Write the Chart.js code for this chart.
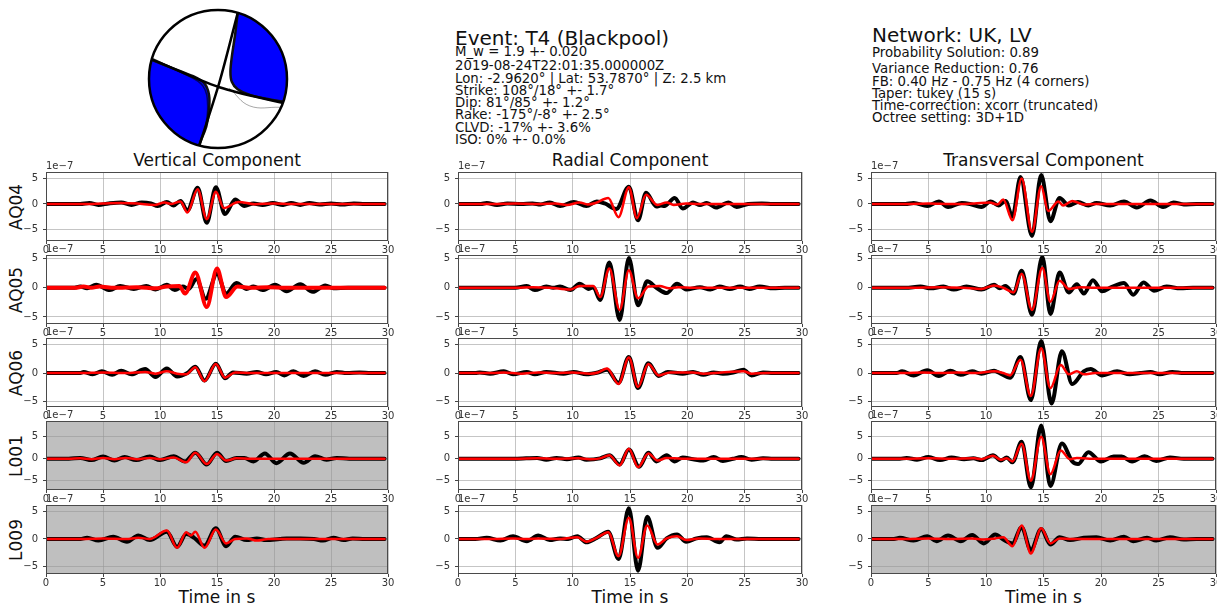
<!DOCTYPE html>
<html>
<head>
<meta charset="utf-8">
<script src="https://cdn.jsdelivr.net/npm/chart.js@4.4.0/dist/chart.umd.min.js"></script>
<style>
  body { margin: 0; width: 1217px; height: 606px; overflow: hidden; background: #fff; position: relative; font-family: "DejaVu Sans", sans-serif; }
  .t { position: absolute; white-space: nowrap; line-height: 1; color: #111; }
  canvas { position: absolute; }
</style>
</head>
<body>
<script>
// station rows and component columns
const stations = ['AQ04', 'AQ05', 'AQ06', 'L001', 'L009'];
const components = ['Vertical Component', 'Radial Component', 'Transversal Component'];
const xTickValues = [0, 5, 10, 15, 20, 25, 30];
const yTickValues = [-5, 0, 5];
const rowYMin = [-7.3, -6.2, -5.9, -7.1, -6.3];
const rowYMax = [6.3, 5.6, 6.1, 8.6, 6.1];
// panels that were not used in the inversion (grey background)
const greyedOut = ['L001-0', 'L009-0', 'L009-2'];

// waveforms, [time s, amplitude 1e-7]
const aq04ZObs = [[0,0],[3,0],[3.8,0.2],[4.6,-0.2],[5.5,0.1],[6.6,0.3],[7.5,-0.2],[8.4,0.3],[9.2,0.1],[9.8,-0.4],[10.6,0.4],[11.2,-0.3],[11.8,0.6],[12.4,-1.3],[13.3,3.2],[14.1,-3.7],[14.9,3.3],[15.7,-2.0],[16.6,0.9],[17.4,-0.4],[18.2,0.1],[19.0,-0.2],[19.9,0.2],[20.8,-0.2],[21.5,0.2],[22.3,-0.2],[23.1,0.2],[24.0,-0.1],[25.0,0.1],[26.0,-0.1],[27.0,0.1],[28.0,0],[29.7,0]];
const aq04ZSyn = [[0,0],[3,0],[5.0,0.1],[6.5,0.2],[8.0,0.1],[9.5,-0.2],[10.4,0.3],[11.0,0],[11.8,0.5],[12.4,-1.7],[13.3,2.9],[14.1,-3.0],[14.9,2.4],[15.6,-0.8],[16.9,0.4],[18.3,-0.05],[20.0,0.1],[21.5,0],[29.7,0]];
const aq04RObs = [[0,0],[2,0],[2.5,0.2],[3.4,-0.2],[4.3,0.1],[5.5,0],[6.5,0.1],[7.2,-0.1],[8.0,0.3],[8.9,-0.4],[10.1,0.4],[11.2,-0.4],[12.1,0.5],[12.8,0.1],[13.8,-1.0],[14.9,3.4],[15.7,-3.2],[16.4,2.2],[17.3,-0.5],[17.7,-0.3],[18.0,-0.4],[18.9,1.2],[19.6,-0.9],[20.5,0.3],[21.1,-0.2],[21.7,0.2],[22.5,-0.7],[23.6,0.3],[24.3,-0.6],[25.3,0],[26.5,0.1],[27.5,0],[29.7,0]];
const aq04RSyn = [[0,0],[3,0],[5,0.1],[7,0],[8.5,0.1],[9.5,-0.2],[10.6,0.3],[11.3,-0.1],[12.0,0.2],[13.1,1.2],[14.0,-2.6],[14.9,3.3],[15.6,-2.8],[16.4,1.8],[17.4,-0.2],[18.2,0.3],[18.8,-0.2],[19.9,0.1],[21,0],[29.7,0]];
const aq04TObs = [[0,0],[3,0],[3.7,0.2],[4.9,-0.4],[5.9,0.5],[6.7,-0.6],[7.9,0.2],[8.6,0],[9.6,-0.6],[10.4,0.5],[11.1,-0.3],[11.7,0.6],[12.3,-2.5],[13.0,5.3],[14.0,-6.3],[14.8,5.7],[15.6,-3.4],[16.4,1.2],[17.2,-0.3],[18.0,0.4],[18.9,-0.3],[19.6,0.2],[20.8,-0.3],[22.0,0.5],[23.1,-0.7],[24.3,0.7],[25.4,-0.6],[26.3,0.3],[27.2,-0.1],[28.3,0],[29.7,0]];
const aq04TSyn = [[0,0],[3,0],[5,0.1],[7,0],[9,0.1],[10.3,0.3],[11.0,-0.1],[11.5,0.9],[12.3,-3.2],[13.1,5.0],[14.0,-5.5],[14.8,3.5],[15.4,-1.4],[16.3,0.5],[16.7,-0.3],[17.5,0.6],[18.5,-0.1],[19.5,0],[29.7,0]];

const aq05ZObs = [[0,0],[2.5,0],[3.0,0.2],[3.6,-0.1],[4.4,0.5],[5.6,-0.4],[6.5,0.3],[7.7,-0.2],[8.8,0.3],[9.6,-0.3],[10.6,0.5],[11.3,-0.4],[12.0,0.2],[12.5,-0.2],[13.2,1.5],[14.0,-1.9],[15.0,2.4],[15.8,-1.0],[16.7,0.8],[17.6,-0.2],[18.2,0.2],[19.0,-0.4],[20.1,0.5],[21.1,-0.6],[22.3,0.6],[23.4,-0.7],[24.5,0.4],[25.2,-0.1],[26.5,0],[29.7,0]];
const aq05ZSyn = [[0,0],[2.5,0],[3.3,0.2],[4.0,0],[4.7,0.2],[6,0],[8,0.1],[9.6,-0.1],[10.6,0.2],[11.7,0.3],[12.2,-1.0],[13.1,2.6],[14.1,-3.3],[15.0,3.3],[15.8,-1.6],[16.8,0.2],[18,0],[19.5,0.1],[21,0],[29.7,0]];
const aq05RObs = [[0,0],[5,0],[6.0,0.3],[6.7,-0.4],[7.7,0.2],[8.3,0],[8.9,0.2],[9.8,-0.4],[10.6,0.7],[11.4,-0.2],[11.8,0.1],[12.4,-2.1],[13.2,4.3],[14.1,-5.5],[14.9,5.1],[15.7,-3.0],[16.5,1.1],[17.3,0],[18.2,-0.9],[19.1,0.7],[19.9,-0.3],[21.1,0.1],[22.0,-0.3],[22.8,0.2],[23.7,-0.2],[24.6,0.2],[25.4,-0.2],[26.3,0.2],[27.5,-0.1],[28.5,0],[29.7,0]];
const aq05RSyn = [[0,0],[5,0],[6.5,0.1],[8,0],[9.8,-0.3],[10.6,0.3],[11.8,0.3],[12.4,-1.6],[13.2,3.3],[14.1,-3.8],[14.9,3.0],[15.7,-1.8],[16.6,0.2],[17.6,0.3],[18.4,-0.1],[19.2,0.1],[20.5,0],[29.7,0]];
const aq05TObs = [[0,0],[3,0],[4.3,0.2],[5.2,-0.1],[6.3,0.2],[7.2,-0.3],[8.3,0.2],[9.6,-0.3],[10.7,0.5],[11.2,-0.1],[11.7,0.3],[12.4,-1.0],[13.1,2.9],[14.0,-4.6],[14.9,5.3],[15.6,-4.5],[16.4,2.6],[17.2,-0.8],[17.9,0.6],[18.5,-1.0],[19.3,1.3],[20.1,-0.6],[20.9,0.1],[22.0,0.8],[22.8,-1.2],[23.7,0.9],[24.6,-0.5],[25.7,0.2],[26.9,-0.1],[28,0],[29.7,0]];
const aq05TSyn = [[0,0],[3,0],[6,0.1],[8,0],[9.6,-0.2],[10.7,0.4],[11.5,0],[12.4,-0.8],[13.1,2.4],[14.0,-3.8],[14.9,3.4],[15.6,-2.4],[16.4,1.2],[17.2,-0.2],[18.2,0.1],[19.5,0],[29.7,0]];

const aq06ZObs = [[0,0],[3,0],[3.3,0.2],[4.1,-0.2],[4.9,0.3],[5.8,-0.3],[6.6,0.4],[7.5,-0.2],[8.7,0.7],[9.6,-0.7],[10.6,0.8],[11.5,-0.6],[12.4,0],[13.1,1.1],[13.9,-1.3],[14.9,1.6],[15.7,-0.9],[16.4,0.1],[17.6,-0.1],[18.5,0.2],[19.3,-0.2],[20.2,0.2],[20.9,-0.4],[21.7,0.3],[22.6,-0.5],[23.6,0.3],[24.5,-0.3],[25.5,0.2],[26.4,0],[27.5,0.1],[28.5,0],[29.7,0]];
const aq06ZSyn = [[0,0],[3,0],[5,0.1],[7,0],[8.7,0.2],[9.6,-0.1],[10.6,0.3],[11.5,-0.1],[12.3,-0.2],[13.1,1.0],[13.9,-1.4],[14.9,1.6],[15.7,-0.8],[16.6,0.1],[18,0],[29.7,0]];
const aq06RObs = [[0,0],[1.5,0],[1.9,0.1],[2.8,-0.1],[4.0,0.3],[4.8,-0.2],[6.0,0.2],[6.7,-0.2],[7.7,0.2],[9.2,-0.1],[10.1,0.2],[11.2,-0.2],[12.2,0.1],[13.0,0.6],[14.0,-1.7],[14.9,2.8],[15.7,-2.6],[16.6,1.7],[17.5,-0.5],[18.3,0.2],[19.6,-0.1],[20.5,0.2],[21.4,-0.3],[22.3,0.1],[23.1,-0.1],[24.0,0.1],[24.9,0.6],[25.6,-0.4],[26.6,0.1],[27.5,0],[29.7,0]];
const aq06RSyn = [[0,0],[3,0],[4,0.1],[5.5,-0.1],[7,0.1],[8.5,0],[10,0.1],[11.5,-0.1],[12.2,0.1],[13.0,0.8],[14.0,-1.9],[14.9,2.7],[15.7,-2.4],[16.6,1.6],[17.5,-0.4],[18.5,0.1],[20.5,0.1],[21.4,-0.1],[23,0.1],[24.9,0.3],[25.6,-0.1],[27,0],[29.7,0]];
const aq06TObs = [[0,0],[2.2,0],[2.7,0.3],[3.7,-0.4],[4.9,0.5],[5.9,-0.5],[6.9,0.4],[7.8,-0.3],[8.8,0.3],[9.6,-0.1],[10.7,0.4],[11.2,0],[12.1,-0.8],[13.0,2.8],[13.9,-4.7],[14.8,5.6],[15.7,-5.3],[16.6,3.8],[17.5,-1.9],[18.5,0.3],[19.1,0.7],[20.1,-0.4],[21.4,0.3],[22.5,-0.2],[23.4,0],[24.3,0.2],[25.1,-0.2],[26.2,0.2],[27.2,0],[29.7,0]];
const aq06TSyn = [[0,0],[3,0],[4.5,0.1],[6,0],[7.5,0.1],[9,0],[10.7,0.3],[11.5,0],[12.1,-0.4],[13.0,2.3],[13.9,-4.0],[14.8,4.3],[15.6,-2.6],[16.5,1.4],[17.2,-0.2],[17.9,0.3],[18.5,-0.2],[19.5,0],[29.7,0]];

const l001ZObs = [[0,0],[2,0],[3.0,0.2],[4.0,-0.3],[5.0,0.5],[6.0,-0.4],[6.9,0.4],[7.9,-0.3],[9.1,0.5],[10.0,-0.3],[11.2,0.6],[12.2,-0.6],[13.1,1.4],[14.1,-1.3],[15.0,1.4],[15.8,-0.5],[16.7,0.2],[17.4,0.2],[18.2,-0.6],[19.2,1.2],[20.2,-1.0],[21.4,1.2],[22.6,-0.9],[23.6,0.6],[24.6,-0.2],[25.5,0.2],[26.6,0],[29.7,0]];
const l001ZSyn = [[0,0],[2,0],[3,0.1],[4,-0.1],[5,0.2],[6,-0.1],[7,0.2],[8,-0.1],[9.1,0.2],[10,-0.1],[11.2,0.3],[12.3,-0.8],[13.1,1.4],[14.1,-1.2],[15.0,1.1],[15.8,-0.4],[16.7,0.1],[18,0],[29.7,0]];
const l001RObs = [[0,0],[5,0],[6.9,0.2],[7.7,-0.2],[8.6,0.2],[9.5,-0.1],[10.5,0.3],[11.2,-0.2],[12.4,0.1],[13.2,0.8],[14.1,-1.3],[14.9,2.1],[15.8,-1.8],[16.6,1.4],[17.3,-0.6],[18.2,0.8],[18.9,-0.6],[19.6,0.3],[20.5,-0.1],[21.4,-0.4],[22.3,0.4],[23.1,-0.5],[24.0,0],[24.7,0.4],[25.6,-0.2],[26.6,0.1],[27.5,0],[29.7,0]];
const l001RSyn = [[0,0],[5,0],[7,0.1],[8.5,0],[10.5,0.1],[11.5,-0.1],[12.4,0.1],[13.2,0.8],[14.1,-1.5],[14.9,2.3],[15.7,-1.9],[16.6,1.2],[17.4,-0.4],[18.2,0.2],[19.5,0],[29.7,0]];
const l001TObs = [[0,0],[2.5,0],[3.1,0.2],[4.0,-0.2],[5.0,0.4],[6.0,-0.3],[7.0,0.3],[8.1,-0.1],[8.9,0.1],[9.6,-0.3],[10.6,0.8],[11.3,-0.4],[11.8,0.3],[12.3,-0.8],[13.1,3.9],[13.9,-6.5],[14.8,7.6],[15.6,-6.2],[16.6,3.5],[17.5,-0.6],[18.0,-1.2],[18.9,1.5],[20.0,-0.6],[21.1,0.5],[21.8,0.5],[22.7,-0.6],[23.8,0.6],[24.8,-0.5],[26.0,0.3],[27.2,0],[29.7,0]];
const l001TSyn = [[0,0],[3,0],[5,0.1],[7,0],[9,0.1],[9.6,-0.1],[10.6,0.7],[11.3,-0.2],[11.8,0.1],[12.3,-0.6],[13.1,3.4],[13.9,-5.0],[14.8,5.0],[15.6,-3.5],[16.5,1.9],[17.3,-0.1],[17.9,0.2],[19,0],[29.7,0]];

const l009ZObs = [[0,0],[3,0],[3.6,0.2],[4.6,-0.3],[5.9,0.4],[7.1,-0.5],[8.1,0.6],[9.1,-0.2],[10.6,1.3],[11.5,-1.4],[12.3,0.9],[13.0,0.2],[13.9,-1.2],[14.9,1.9],[15.8,-1.3],[16.6,0.4],[17.6,-0.2],[18.5,0.1],[19.3,-0.2],[20.5,0],[21.1,0.1],[22.3,0.1],[23.5,0],[24.3,-0.3],[25.2,0.2],[26.1,-0.2],[26.9,0.1],[28,0],[29.7,0]];
const l009ZSyn = [[0,0],[3,0],[5,0.1],[7,0],[8.1,0.2],[9.1,0],[10.6,1.5],[11.5,-1.6],[12.3,1.2],[12.7,0.6],[13.1,1.3],[13.9,-1.6],[14.9,1.7],[15.8,-0.8],[16.6,0],[17.6,0.1],[18.5,-0.3],[19.5,0],[29.7,0]];
const l009RObs = [[0,0],[1.5,0],[2.5,0.2],[3.7,-0.3],[4.8,0.5],[6.0,-0.4],[7.0,0.6],[8.0,-0.2],[8.9,0.1],[9.6,0],[10.4,0.5],[11.2,-0.6],[12.1,0.2],[13.1,1.3],[14.0,-3.6],[14.9,5.5],[15.7,-5.7],[16.5,4.0],[17.4,-1.6],[18.2,0.1],[19.1,0.8],[19.9,-0.5],[20.8,0.1],[21.7,0.3],[22.8,-0.6],[23.4,0.5],[24.3,-0.1],[25.2,0.1],[26.5,0],[29.7,0]];
const l009RSyn = [[0,0],[3,0],[4.8,0.1],[6,0],[7,0.1],[9,0],[10.4,0.3],[11.2,-0.5],[12.1,0.2],[13.1,1.2],[14.0,-3.1],[14.9,3.8],[15.7,-3.4],[16.5,2.4],[17.4,-1.0],[18.2,0.1],[19.1,0.5],[19.9,-0.2],[21,0.1],[22.5,0],[29.7,0]];
const l009TObs = [[0,0],[2,0],[2.5,0.2],[3.7,-0.3],[4.9,0.5],[5.7,-0.4],[6.7,0.6],[7.8,-0.4],[8.8,0.7],[9.8,-0.8],[10.8,0.8],[11.5,-0.1],[12.3,-0.8],[13.1,2.1],[13.9,-2.0],[14.8,1.8],[15.6,-1.0],[16.4,0.3],[17.3,-0.2],[18.5,0.2],[19.6,0.3],[20.8,-0.3],[22.0,0.4],[22.8,-0.4],[24.0,0.2],[24.8,-0.3],[26.0,0.3],[27.2,-0.1],[28.3,0],[29.7,0]];
const l009TSyn = [[0,0],[3,0],[5,0.1],[7,0],[8.8,0.1],[9.8,-0.1],[10.8,0.1],[11.5,0.3],[12.3,-1.3],[13.1,2.4],[13.9,-2.6],[14.8,1.9],[15.6,-0.8],[16.4,0.1],[17.5,0],[29.7,0]];

const observed = [
  [aq04ZObs, aq04RObs, aq04TObs],
  [aq05ZObs, aq05RObs, aq05TObs],
  [aq06ZObs, aq06RObs, aq06TObs],
  [l001ZObs, l001RObs, l001TObs],
  [l009ZObs, l009RObs, l009TObs]
];
const synthetic = [
  [aq04ZSyn, aq04RSyn, aq04TSyn],
  [aq05ZSyn, aq05RSyn, aq05TSyn],
  [aq06ZSyn, aq06RSyn, aq06TSyn],
  [l001ZSyn, l001RSyn, l001TSyn],
  [l009ZSyn, l009RSyn, l009TSyn]
];

// beachball outlines in unit-circle coordinates (lower hemisphere)
const compressionNE = [[0.285,0.955],[0.25,0.66],[0.2,0.32],[0.18,0.11],[0.2,-0.04],[0.285,-0.15],[0.46,-0.23],[0.7,-0.285],[0.95,-0.33],[1.3,-0.4],[1.3,1.3],[0.3,1.3],[0.285,0.955]];
const compressionSW = [[-0.97,0.28],[-0.65,0.155],[-0.36,0.04],[-0.2,-0.06],[-0.13,-0.23],[-0.13,-0.45],[-0.17,-0.69],[-0.27,-0.96],[-0.3,-1.3],[-1.3,-1.3],[-1.3,0.3],[-0.97,0.28]];
const nodalPlane1 = [[0.285,0.955],[0.02,-0.05],[-0.27,-0.96]];
const nodalPlane2 = [[-0.96,0.285],[0.02,-0.12],[0.95,-0.35]];
const altSolution = [[0.16,-0.13],[0.46,-0.39],[0.9,-0.41]];
const fanSW = [[-0.96,0.3],[-0.5,0.08],[-0.22,-0.1],[-0.15,-0.4],[-0.2,-0.8]];

const eventLines = ['M_w = 1.9 +- 0.020', '2019-08-24T22:01:35.000000Z', 'Lon: -2.9620\u00b0 | Lat: 53.7870\u00b0 | Z: 2.5 km',
  'Strike: 108\u00b0/18\u00b0 +- 1.7\u00b0', 'Dip: 81\u00b0/85\u00b0 +- 1.2\u00b0', 'Rake: -175\u00b0/-8\u00b0 +- 2.5\u00b0',
  'CLVD: -17% +- 3.6%', 'ISO: 0% +- 0.0%'];
const networkLines = ['Probability Solution: 0.89', 'Variance Reduction: 0.76', 'FB: 0.40 Hz - 0.75 Hz (4 corners)',
  'Taper: tukey (15 s)', 'Time-correction: xcorr (truncated)', 'Octree setting: 3D+1D'];

// layout of the figure (pixels)
const colLeft = [46, 458, 871];
const colWidth = [342, 344, 345];
const rowTop = [172, 255, 338, 421, 505];
const rowHeight = 69;
const family = '"DejaVu Sans", sans-serif';
const padTop = 14, padRight = 10, yAxisW = 34, xAxisH = 16;

function addText(str, left, top, size, extra) {
  const d = document.createElement('div');
  d.className = 't';
  d.textContent = str;
  d.style.left = left + 'px';
  d.style.top = top + 'px';
  d.style.fontSize = size + 'px';
  if (extra) Object.assign(d.style, extra);
  document.body.appendChild(d);
}

// text blocks (top = baseline - 0.846 * size)
addText('Event: T4 (Blackpool)', 455, 45 - 16.9, 20);
const eventBase = [56, 70, 83, 95, 107, 119, 132, 144];
eventLines.forEach((s, i) => addText(s, 455, eventBase[i] - 11.25, 13.3));
addText('Network: UK, LV', 872, 42 - 16.9, 20);
const netBase = [57, 73, 86, 98, 110, 122];
networkLines.forEach((s, i) => addText(s, 872, netBase[i] - 11.25, 13.3));

components.forEach((c, j) => {
  const cx = colLeft[j] + colWidth[j] / 2;
  addText(c, cx, 166 - 14.4, 17, { transform: 'translateX(-50%)' });
  addText('Time in s', cx, 603 - 14.4, 17, { transform: 'translateX(-50%)' });
});
stations.forEach((s, i) => {
  addText(s, 16, rowTop[i] + rowHeight / 2, 17, { transform: 'translate(-50%,-50%) rotate(-90deg)' });
});

const panelDeco = {
  id: 'panelDeco',
  beforeDraw(chart, args, opts) {
    if (!opts.grey) return;
    const a = chart.chartArea, ctx = chart.ctx;
    ctx.save();
    ctx.fillStyle = '#bfbfbf';
    ctx.fillRect(a.left, a.top, a.right - a.left, a.bottom - a.top);
    ctx.restore();
  },
  afterDraw(chart) {
    const a = chart.chartArea, ctx = chart.ctx;
    ctx.save();
    ctx.strokeStyle = '#4a4a4a';
    ctx.lineWidth = 1;
    ctx.strokeRect(a.left + 0.5, a.top + 0.5, a.right - a.left - 1, a.bottom - a.top - 1);
    ctx.fillStyle = '#333';
    ctx.font = '10px ' + family;
    ctx.textBaseline = 'bottom';
    ctx.fillText('1e\u22127', a.left, a.top - 1);
    ctx.restore();
  }
};

function axisOpts(extra) {
  return Object.assign({
    type: 'linear',
    ticks: {
      font: { size: 10, family: family },
      color: '#333',
      autoSkip: false,
      maxRotation: 0,
      callback: v => (v < 0 ? '\u2212' + Math.abs(v) : String(v))
    },
    grid: { color: 'rgba(150,150,150,0.55)', lineWidth: 1, tickLength: 3, tickColor: '#444' },
    border: { display: false }
  }, extra);
}

stations.forEach((st, i) => {
  components.forEach((comp, j) => {
    const cv = document.createElement('canvas');
    const w = colWidth[j] + yAxisW + padRight;
    const h = rowHeight + padTop + xAxisH;
    cv.width = w; cv.height = h;
    cv.style.left = (colLeft[j] - yAxisW) + 'px';
    cv.style.top = (rowTop[i] - padTop) + 'px';
    cv.style.width = w + 'px'; cv.style.height = h + 'px';
    document.body.appendChild(cv);

    const xs = axisOpts({ min: 0, max: 30,
      afterBuildTicks: s => { s.ticks = xTickValues.map(v => ({ value: v })); },
      afterFit: s => { s.height = xAxisH; } });
    xs.ticks.padding = 0;
    const ys = axisOpts({ min: rowYMin[i], max: rowYMax[i],
      afterBuildTicks: s => { s.ticks = yTickValues.map(v => ({ value: v })); },
      afterFit: s => { s.width = yAxisW; } });
    ys.ticks.padding = 5;

    const synWidth = (st === 'AQ05' && j === 0) ? 4 : 2.5;
    new Chart(cv, {
      type: 'line',
      data: {
        datasets: [
          { label: 'synthetic', data: synthetic[i][j].map(p => ({ x: p[0], y: p[1] })), borderColor: '#ff0000', borderWidth: synWidth, order: 0 },
          { label: 'observed', data: observed[i][j].map(p => ({ x: p[0], y: p[1] })), borderColor: '#000000', borderWidth: 4, order: 1 }
        ]
      },
      options: {
        animation: false,
        responsive: false,
        devicePixelRatio: 1,
        layout: { padding: { top: padTop, right: padRight, left: 0, bottom: 0 } },
        elements: {
          point: { radius: 0 },
          line: { cubicInterpolationMode: 'monotone', borderJoinStyle: 'round', borderCapStyle: 'round' }
        },
        plugins: {
          legend: { display: false },
          tooltip: { enabled: false },
          panelDeco: { grey: greyedOut.includes(st + '-' + j) }
        },
        scales: { x: xs, y: ys }
      },
      plugins: [panelDeco]
    });
  });
});

// beachball
const ballClip = {
  id: 'ballClip',
  beforeDatasetsDraw(chart) {
    const ctx = chart.ctx, sx = chart.scales.x, sy = chart.scales.y;
    const cx = sx.getPixelForValue(0), cy = sy.getPixelForValue(0);
    const r = sx.getPixelForValue(1) - cx;
    ctx.save();
    ctx.beginPath();
    ctx.arc(cx, cy, r, 0, Math.PI * 2);
    ctx.fillStyle = '#ffffff';
    ctx.fill();
    ctx.clip();
  },
  afterDatasetsDraw(chart) {
    const ctx = chart.ctx, sx = chart.scales.x, sy = chart.scales.y;
    ctx.restore();
    const cx = sx.getPixelForValue(0), cy = sy.getPixelForValue(0);
    const r = sx.getPixelForValue(1) - cx;
    ctx.save();
    ctx.beginPath();
    ctx.arc(cx, cy, r, 0, Math.PI * 2);
    ctx.strokeStyle = '#000';
    ctx.lineWidth = 2.5;
    ctx.stroke();
    ctx.restore();
  }
};

const bb = document.createElement('canvas');
bb.width = 146; bb.height = 146;
bb.style.left = '145px'; bb.style.top = '6px';
bb.style.width = '146px'; bb.style.height = '146px';
document.body.appendChild(bb);
const toXY = arr => arr.map(p => ({ x: p[0], y: p[1] }));
new Chart(bb, {
  type: 'scatter',
  data: {
    datasets: [
      { data: toXY(altSolution), showLine: true, borderColor: 'rgba(0,0,0,0.35)', borderWidth: 1, tension: 0.4, order: 0 },
      { data: toXY(fanSW), showLine: true, borderColor: 'rgba(0,0,0,0.6)', borderWidth: 1.5, tension: 0.4, order: 1 },
      { data: toXY(nodalPlane1), showLine: true, borderColor: '#000', borderWidth: 2.5, tension: 0.3, order: 2 },
      { data: toXY(nodalPlane2), showLine: true, borderColor: '#000', borderWidth: 2.5, tension: 0.3, order: 3 },
      { data: toXY(compressionNE), showLine: true, fill: 'shape', backgroundColor: '#0000ff', borderColor: '#111', borderWidth: 2.5, tension: 0.25, order: 4 },
      { data: toXY(compressionSW), showLine: true, fill: 'shape', backgroundColor: '#0000ff', borderColor: '#111', borderWidth: 2.5, tension: 0.25, order: 5 }
    ]
  },
  options: {
    animation: false,
    responsive: false,
    devicePixelRatio: 1,
    layout: { padding: 4 },
    elements: { point: { radius: 0 } },
    plugins: { legend: { display: false }, tooltip: { enabled: false } },
    scales: {
      x: { type: 'linear', min: -1, max: 1, display: false },
      y: { type: 'linear', min: -1, max: 1, display: false }
    }
  },
  plugins: [ballClip]
});
</script>
</body>
</html>
